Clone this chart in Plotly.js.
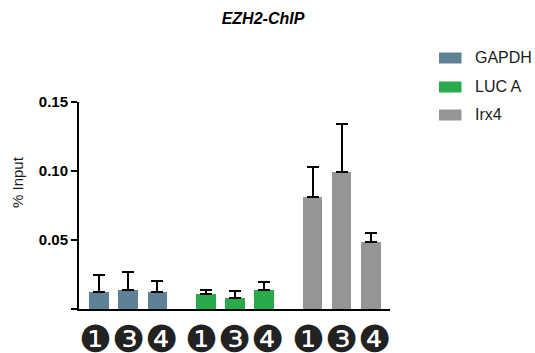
<!DOCTYPE html>
<html>
<head>
<meta charset="utf-8">
<script src="https://cdn.plot.ly/plotly-3.0.1.min.js"></script>
<style>html,body{margin:0;padding:0;background:#fff;}#chart{width:535px;height:353px;}</style>
</head>
<body>
<div id="chart"></div>
<script>
// ---- data ----
var seriesNames = ["GAPDH", "LUC A", "Irx4"];
var sampleLabels = ["\u2776", "\u2778", "\u2779"]; // circled 1, 3, 4
var gapdhValues = [0.0122, 0.0136, 0.0122];
var gapdhErrors = [0.0126, 0.0134, 0.0082];
var lucaValues = [0.0112, 0.0078, 0.0136];
var lucaErrors = [0.0024, 0.0051, 0.0061];
var irx4Values = [0.0815, 0.0990, 0.0485];
var irx4Errors = [0.0215, 0.0350, 0.0068];
var yTickValues = [0, 0.05, 0.10, 0.15];
var yTickLabels = ["", "0.05", "0.10", "0.15"];

// ---- style ----
var colors = ["#5e8195", "#29aa4b", "#959595"];
var groupStep = 3.67;
var W = 535, H = 353;
var M = {l: 79, r: 145, t: 102, b: 44};
var pw = W - M.l - M.r, ph = H - M.t - M.b;
var xRange = [-0.69, 10.0];
var unitPx = pw / (xRange[1] - xRange[0]);
function px(x) { return (x - M.l) / pw; }
function py(y) { return (H - M.b - y) / ph; }

var allValues = [gapdhValues, lucaValues, irx4Values];
var allErrors = [gapdhErrors, lucaErrors, irx4Errors];

var traces = [];
var shapes = [], annotations = [];
allValues.forEach(function (vals, g) {
  var xs = vals.map(function (_, i) { return g * groupStep + i; });
  traces.push({
    type: "bar",
    name: seriesNames[g],
    x: xs,
    y: vals,
    width: 0.67,
    marker: {color: colors[g], line: {width: 0}},
    error_y: {
      type: "data", symmetric: false,
      array: allErrors[g],
      arrayminus: vals.map(function () { return 0; }),
      color: "#000", thickness: 2, width: 6
    },
    showlegend: false,
    hoverinfo: "x+y"
  });
  // circled sample labels under each group (spaced a bit wider than the bars)
  var centre = g * groupStep + 1;
  sampleLabels.forEach(function (lab, i) {
    annotations.push({
      xref: "x", yref: "paper",
      x: centre + (i - 1) * 33 / unitPx, y: py(339),
      xanchor: "center", yanchor: "middle", showarrow: false,
      text: lab,
      font: {family: "DejaVu Sans", size: 37, color: "#222"}
    });
  });
});

var legendY = [58, 87, 115];
seriesNames.forEach(function (n, i) {
  shapes.push({
    type: "rect", xref: "paper", yref: "paper",
    x0: px(439), x1: px(461.5), y0: py(legendY[i] + 5.5), y1: py(legendY[i] - 5.5),
    fillcolor: colors[i], line: {width: 0}
  });
  annotations.push({
    xref: "paper", yref: "paper", x: px(473), y: py(legendY[i]),
    xanchor: "left", yanchor: "middle", showarrow: false, text: n,
    font: {family: "Liberation Sans, Arial, sans-serif", size: 16, color: "#1a1a1a"}
  });
});
annotations.push({
  xref: "paper", yref: "paper", x: px(17), y: py(182),
  xanchor: "center", yanchor: "middle", showarrow: false, text: "% Input",
  textangle: -90,
  font: {family: "Liberation Sans, Arial, sans-serif", size: 15, color: "#1a1a1a"}
});

var layout = {
  width: W, height: H,
  margin: M,
  paper_bgcolor: "#fff", plot_bgcolor: "#fff",
  title: {
    text: "EZH2-ChIP", x: 263 / W, xanchor: "center", y: 1 - 18 / H, yanchor: "middle",
    font: {family: "Liberation Sans, Arial, sans-serif", size: 16, color: "#000", weight: 700, style: "italic"}
  },
  bargap: 0,
  xaxis: {
    range: xRange,
    showgrid: false, zeroline: false,
    showline: true, linecolor: "#000", linewidth: 2,
    ticks: "", showticklabels: false
  },
  yaxis: {
    range: [0, 0.15],
    showgrid: false, zeroline: false,
    showline: true, linecolor: "#000", linewidth: 2,
    ticks: "outside", ticklen: 6, tickwidth: 2, tickcolor: "#000",
    tickvals: yTickValues, ticktext: yTickLabels,
    tickfont: {family: "Liberation Sans, Arial, sans-serif", size: 15, color: "#000", weight: 700}
  },
  shapes: shapes,
  annotations: annotations
};

Plotly.newPlot("chart", traces, layout, {displayModeBar: false, staticPlot: true});
</script>
</body>
</html>
